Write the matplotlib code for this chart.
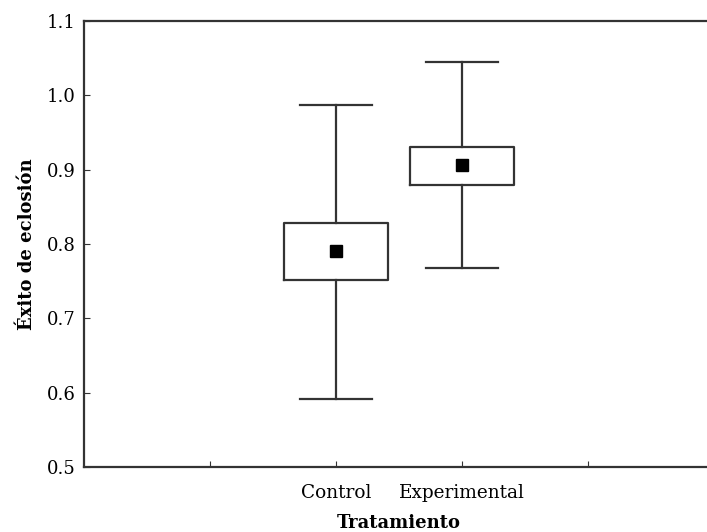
import matplotlib
matplotlib.use('Agg')
import matplotlib.pyplot as plt

# datos (media, +-EE caja, +-bigotes)
grupos = ['Control', 'Experimental']
posiciones = [2, 3]
medias = [0.790, 0.906]
caja_inf = [0.752, 0.879]
caja_sup = [0.828, 0.931]
bigote_inf = [0.591, 0.768]
bigote_sup = [0.987, 1.045]

plt.rcParams['font.family'] = ['DejaVu Serif']

stats = []
for i in range(len(grupos)):
    stats.append({'label': grupos[i], 'med': medias[i], 'mean': medias[i],
                  'q1': caja_inf[i], 'q3': caja_sup[i],
                  'whislo': bigote_inf[i], 'whishi': bigote_sup[i], 'fliers': []})

fig = plt.figure(figsize=(7.07, 5.32), dpi=100)
# el eje se sale por la derecha de la imagen, como en el original
ax = fig.add_axes([84 / 707, 65 / 532, 630 / 707, 446 / 532])

linea = dict(color='#333333', linewidth=1.6)
ax.bxp(stats, positions=posiciones, widths=0.82, capwidths=0.57,
       showmeans=True, showfliers=False,
       boxprops=linea, whiskerprops=linea, capprops=linea,
       medianprops=dict(linewidth=0),
       meanprops=dict(marker='s', markerfacecolor='black', markeredgecolor='black', markersize=8))

ax.set_xlim(0, 5)
ax.set_ylim(0.5, 1.1)
ax.set_xticks([1, 2, 3, 4])
ax.set_xticklabels(['', 'Control', 'Experimental', ''], fontsize=13.3)
ax.set_yticks([0.5, 0.6, 0.7, 0.8, 0.9, 1.0, 1.1])
ax.set_yticklabels(['0.5', '0.6', '0.7', '0.8', '0.9', '1.0', '1.1'], fontsize=13)
ax.tick_params(axis='both', direction='in', length=4, color='#333333')
ax.tick_params(axis='x', pad=12)
ax.tick_params(axis='y', pad=6)
for s in ax.spines.values():
    s.set_linewidth(1.6)
    s.set_color('#333333')

ax.set_xlabel('Tratamiento', fontsize=13, fontweight='bold', labelpad=9)
ax.set_ylabel('Éxito de eclosión', fontsize=13, fontweight='bold', labelpad=8)

fig.savefig('out.png', dpi=100)
